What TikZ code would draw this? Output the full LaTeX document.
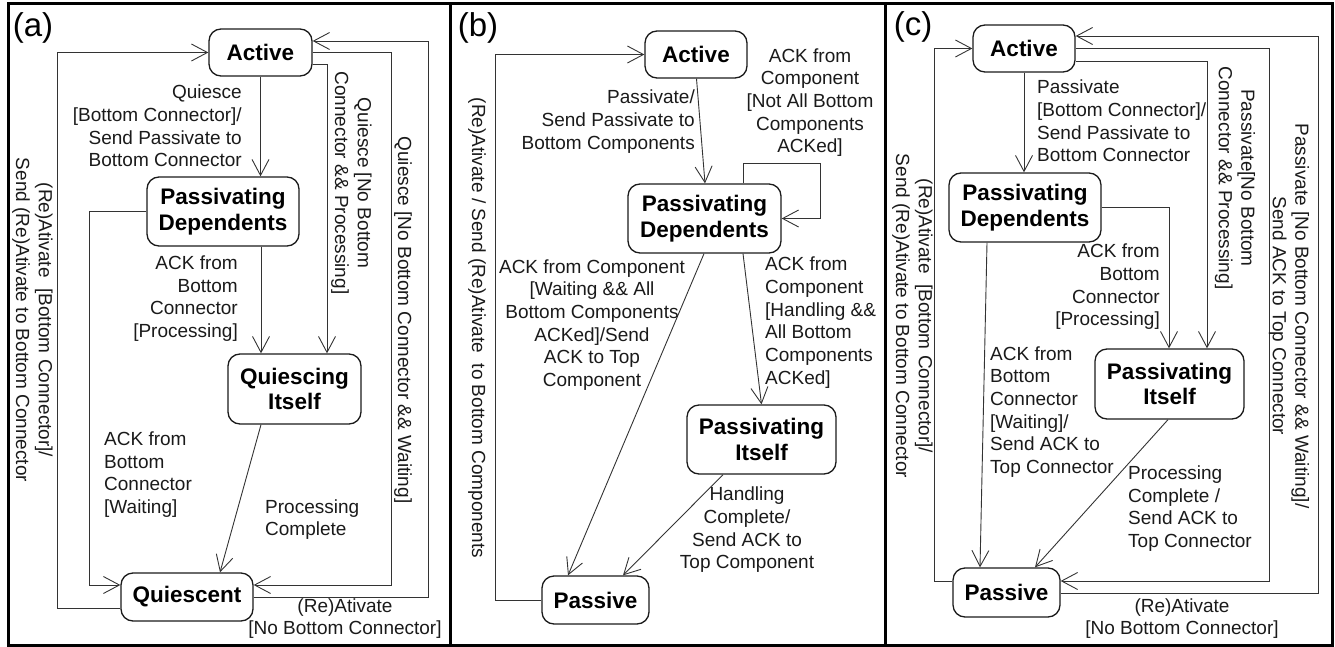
\documentclass[tikz,border=0pt]{standalone}
\usepackage{fontspec}
\setmainfont{Liberation Sans}
\usetikzlibrary{arrows.meta}
\definecolor{linec}{HTML}{333333}
\definecolor{textc}{HTML}{1A1A1A}
\begin{document}
\begin{tikzpicture}[x=1pt,y=-1pt,
  state/.style={draw=textc, line width=1.3pt, rounded corners=12pt, inner sep=0pt, align=center,
    text=black, font=\bfseries\fontsize{22.5}{25.7}\selectfont},
  lbl/.style={inner sep=0pt, text=textc, font=\fontsize{19}{22.7}\selectfont},
  rlbl/.style={lbl, rotate=-90, align=center},
  plbl/.style={inner sep=0pt, font=\fontsize{33}{36}\selectfont},
  conn/.style={draw=linec, line width=0.9pt, -{Straight Barb[length=16pt,width=17pt,line width=0.9pt]}},
  frame/.style={draw=black, line width=3pt}]
\useasboundingbox (0,0) rectangle (1335,647);
% frames
\draw[frame] (8,4) rectangle (1332,645);
\draw[frame] (450.5,4) -- (450.5,645);
\draw[frame] (885,4) -- (885,645);

% ================= panel (a)
\node[plbl] (pa) at (33,28) {(a)};
\node[state, minimum width=103pt, minimum height=47pt] (Aa) at (260.5,52.5) {Active};
\node[state, minimum width=152pt, minimum height=69pt] (PDa) at (223,211.5) {Passivating\\Dependents};
\node[state, minimum width=133pt, minimum height=70pt] (QIa) at (294.5,389) {Quiescing\\Itself};
\node[state, minimum width=132pt, minimum height=48pt] (Qa) at (187,597) {Quiescent};

\coordinate (a3) at (327,64);
\coordinate (a4) at (391,52);
\coordinate (a4b) at (391,585);
\coordinate (a5a) at (428,597);
\coordinate (a5b) at (428,41);
\coordinate (a6a) at (57,608);
\coordinate (a6b) at (57,52.5);
\coordinate (a7a) at (89,211.5);
\coordinate (a7b) at (89,585);

\draw[conn] (Aa.south) -- (Aa.south |- PDa.north);
\draw[conn] ([xshift=38pt]PDa.south) -- ([xshift=38pt]PDa.south |- QIa.north);
\draw[conn] (Aa.east |- a3) -- (a3) -- (a3 |- QIa.north);
\draw[conn] (Aa.east |- a4) -- (a4) -- (a4b) -- (Qa.east |- a4b);
\draw[conn] (Qa.east |- a5a) -- (a5a) -- (a5b) -- (Aa.east |- a5b);
\draw[conn] (Qa.west |- a6a) -- (a6a) -- (a6b) -- (Aa.west);
\draw[conn] (PDa.west) -- (a7a) -- (a7b) -- (Qa.west |- a7b);
\draw[conn] ([xshift=-33.5pt]QIa.south) -- ([xshift=33pt]Qa.north);

\node[lbl, align=right, anchor=east] (la1) at (242,126) {Quiesce\\[0pt][Bottom Connector]/\\Send Passivate to\\Bottom Connector};
\node[lbl, align=right, anchor=east] (la2) at (238,298.5) {ACK from\\Bottom\\Connector\\{[Processing]}};
\node[rlbl] (la3) at (351.5,183) {Quiesce [No Bottom\\Connector \&\& Processing]};
\node[rlbl] (la4) at (403,320) {Quiesce [No Bottom Connector \&\& Waiting]};
\node[lbl, align=center] (la5) at (345,618.5) {(Re)Ativate\\{[No Bottom Connector]}};
\node[rlbl] (la6) at (32.5,320) {(Re)Ativate\ \ [Bottom Connector]/\\Send (Re)Ativate to Bottom Connector};
\node[lbl, align=left, anchor=west] (la7) at (104,474.5) {ACK from\\Bottom\\Connector\\{[Waiting]}};
\node[lbl, align=left, anchor=west] (la8) at (265,519.5) {Processing\\Complete};

% ================= panel (b)
\node[plbl] (pb) at (478,28) {(b)};
\node[state, minimum width=102pt, minimum height=47pt] (Ab) at (696,54.5) {Active};
\node[state, minimum width=153pt, minimum height=69pt] (PDb) at (704.5,218.5) {Passivating\\Dependents};
\node[state, minimum width=149pt, minimum height=69pt] (PIb) at (761.5,439.5) {Passivating\\Itself};
\node[state, minimum width=107pt, minimum height=48pt] (Pb) at (595.5,600) {Passive};

\coordinate (b2a) at (743,163);
\coordinate (b2b) at (820,163);
\coordinate (b2c) at (820,218.5);
\coordinate (b6a) at (495,600);
\coordinate (b6b) at (495,54.5);

\draw[conn] ([xshift=0.5pt]Ab.south) -- ([xshift=0.5pt]PDb.north);
\draw[conn] (PDb.north -| b2a) -- (b2a) -- (b2b) -- (b2c) -- (PDb.east);
\draw[conn] ([xshift=-0.5pt]PDb.south) -- ([xshift=-27.5pt]Pb.north);
\draw[conn] ([xshift=38.5pt]PDb.south) -- (PIb.north);
\draw[conn] ([xshift=-38.5pt]PIb.south) -- ([xshift=27.5pt]Pb.north);
\draw[conn] (Pb.west) -- (b6a) -- (b6b) -- (Ab.west);

\node[lbl, align=right, anchor=east] (lb1) at (695,121.5) {Passivate/\\Send Passivate to\\Bottom Components};
\node[lbl, align=center] (lb2) at (810,102.5) {ACK from\\Component\\{[Not All Bottom}\\Components\\ACKed]};
\node[lbl, align=center] (lb3) at (592,325) {ACK from Component\\{[Waiting \&\& All}\\Bottom Components\\ACKed]/Send\\ACK to Top\\Component};
\node[lbl, align=left, anchor=west] (lb4) at (765,322.5) {ACK from\\Component\\{[Handling \&\&}\\All Bottom\\Components\\ACKed]};
\node[lbl, align=center] (lb5) at (747,530) {Handling\\Complete/\\Send ACK to\\Top Component};
\node[rlbl] (lb6) at (477,328) {(Re)Ativate / Send (Re)Ativate\ \ to Bottom Components};

% ================= panel (c)
\node[plbl] (pc) at (913,27) {(c)};
\node[state, minimum width=102pt, minimum height=47pt] (Ac) at (1024,48.5) {Active};
\node[state, minimum width=152pt, minimum height=69pt] (PDc) at (1025,207.5) {Passivating\\Dependents};
\node[state, minimum width=149pt, minimum height=70pt] (PIc) at (1169.5,384) {Passivating\\Itself};
\node[state, minimum width=107pt, minimum height=49pt] (Pc) at (1006.5,592.5) {Passive};

\coordinate (c2a) at (1169,207.5);
\coordinate (c3a) at (1207,61);
\coordinate (c4a) at (1269,48.5);
\coordinate (c4b) at (1269,581);
\coordinate (c5a) at (1318,593);
\coordinate (c5b) at (1318,36);
\coordinate (c6a) at (934,581);
\coordinate (c6b) at (934,48.5);

\draw[conn] (Ac.south) -- (Ac.south |- PDc.north);
\draw[conn] (PDc.east) -- (c2a) -- (c2a |- PIc.north);
\draw[conn] (Ac.east |- c3a) -- (c3a) -- (c3a |- PIc.north);
\draw[conn] (Ac.east) -- (c4a) -- (c4b) -- (Pc.east |- c4b);
\draw[conn] (Pc.east |- c5a) -- (c5a) -- (c5b) -- (Ac.east |- c5b);
\draw[conn] (Pc.west |- c6a) -- (c6a) -- (c6b) -- (Ac.west);
\draw[conn] ([xshift=-38pt]PDc.south) -- ([xshift=-26.5pt]Pc.north);
\draw[conn] ([xshift=-1.5pt]PIc.south) -- ([xshift=28.5pt]Pc.north);

\node[lbl, align=left, anchor=west] (lc1) at (1037,121) {Passivate\\{[Bottom Connector]/}\\Send Passivate to\\Bottom Connector};
\node[lbl, align=right, anchor=east] (lc2) at (1160,287) {ACK from\\Bottom\\Connector\\{[Processing]}};
\node[rlbl] (lc3) at (1235,178) {Passivate[No Bottom\\Connector \&\& Processing]};
\node[rlbl] (lc4) at (1289,316) {Passivate [No Bottom Connector \&\& Waiting]/\\Send ACK to Top Connector};
\node[lbl, align=center] (lc5) at (1182,618.5) {(Re)Ativate\\{[No Bottom Connector]}};
\node[rlbl] (lc6) at (912.5,316) {(Re)Ativate\ \ [Bottom Connector]/\\Send (Re)Ativate to Bottom Connector};
\node[lbl, align=left, anchor=west] (lc7) at (990,412) {ACK from\\Bottom\\Connector\\{[Waiting]/}\\Send ACK to\\Top Connector};
\node[lbl, align=left, anchor=west] (lc8) at (1128,508.5) {Processing\\Complete /\\Send ACK to\\Top Connector};
\end{tikzpicture}
\end{document}
